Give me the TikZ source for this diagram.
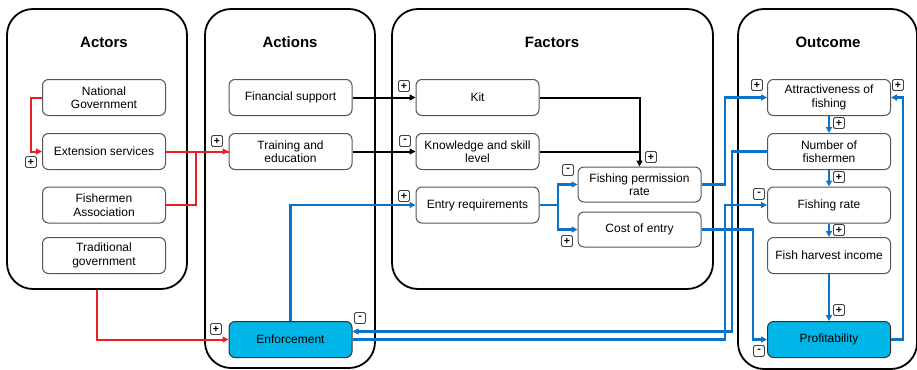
\documentclass[tikz,border=0pt]{standalone}
\usepackage{fontspec}
\setmainfont{Liberation Sans}
\usetikzlibrary{arrows.meta,calc}
\definecolor{cred}{RGB}{235,30,36}
\definecolor{cblue}{RGB}{10,115,200}
\definecolor{ccyan}{RGB}{0,182,232}
\definecolor{cgray}{RGB}{85,85,85}
\begin{document}
\begin{tikzpicture}[x=1pt,y=-1pt,
  grp/.style={draw=black, line width=1.8pt, rounded corners=26pt, inner sep=0},
  box/.style={draw=cgray, line width=1pt, rounded corners=6pt, fill=white,
    minimum width=123pt, minimum height=36pt, align=center, inner sep=0,
    font=\fontsize{12}{13.5}\selectfont},
  hl/.style={box, fill=ccyan, draw=black!80},
  ttl/.style={font=\fontsize{15}{18}\selectfont\bfseries},
  sgn/.style={draw=black!75, line width=0.9pt, rounded corners=1.5pt, fill=white,
    minimum size=11pt, inner sep=0, font=\fontsize{10.5}{10.5}\selectfont\bfseries},
  tip/.style={-{Triangle[length=6pt,width=6pt]}},
  rl/.style={draw=cred, line width=2pt},
  bl/.style={draw=black, line width=2pt},
  ul/.style={draw=cblue, line width=2.2pt}
]
\useasboundingbox (0,0) rectangle (917,369);

% groups
\node[grp, minimum width=180pt, minimum height=280pt] (actors) at (97,149) {};
\node[grp, minimum width=170pt, minimum height=359pt] (actions) at (290,188.5) {};
\node[grp, minimum width=321pt, minimum height=280pt] (factors) at (552.5,149) {};
\node[grp, minimum width=179pt, minimum height=360pt] (outcome) at (827.5,189) {};

\node[ttl] (tact) at (104,42) {Actors};
\node[ttl] (tactn) at (290,42) {Actions};
\node[ttl] (tfac) at (552,42) {Factors};
\node[ttl] (tout) at (828,42) {Outcome};

% actors
\node[box] (ng) at (104,97.5) {National\\Government};
\node[box] (es) at (104,151.5) {Extension services};
\node[box] (fa) at (104,205) {Fishermen\\Association};
\node[box] (tg) at (104,255.5) {Traditional\\government};

% actions
\node[box] (fs) at (290.5,97.5) {Financial support};
\node[box] (te) at (290.5,151.5) {Training and\\education};
\node[hl] (enf) at (290.5,339.5) {Enforcement};

% factors
\node[box] (kit) at (477.5,97.5) {Kit};
\node[box] (ks) at (477.5,151.5) {Knowledge and skill\\level};
\node[box] (er) at (477.5,205) {Entry requirements};
\node[box, minimum height=35pt] (fpr) at (639.5,184.5) {Fishing permission\\rate};
\node[box, minimum height=35pt] (ce) at (639.5,229.5) {Cost of entry};

% outcome
\node[box] (at) at (829,97.5) {Attractiveness of\\fishing};
\node[box] (nf) at (829,151.5) {Number of\\fishermen};
\node[box] (fr) at (829,205) {Fishing rate};
\node[box] (fh) at (829,255.5) {Fish harvest income};
\node[hl] (pr) at (829,339.5) {Profitability};

% junction coordinates
\coordinate (j1) at (31,0);
\coordinate (j2) at (196,0);
\coordinate (j3) at (558,0);
\coordinate (v1) at (725,0);
\coordinate (v2) at (732,0);
\coordinate (v3) at (753,0);
\coordinate (v4) at (903,0);

% red connectors
\draw[rl, tip] (ng.west) -- (ng.west -| j1) |- (es.west);
\draw[rl, tip] (es.east) -- (te.west);
\draw[rl] (fa.east) -- (fa.east -| j2) |- (te.west);
\draw[rl, tip] (actors.south) |- (enf.west);

% black connectors
\draw[bl, tip] (fs.east) -- (kit.west);
\draw[bl, tip] (te.east) -- (ks.west);
\draw[bl, tip] (kit.east) -| (fpr.north);
\draw[bl] (ks.east) -- (ks.east -| fpr.north);

% blue connectors
\draw[ul, tip] (enf.north) |- (er.west);
\draw[ul, tip] (er.east) -- (er.east -| j3) |- (fpr.west);
\draw[ul, tip] (er.east) -- (er.east -| j3) |- (ce.west);
\draw[ul, tip] (fpr.east) -- (fpr.east -| v1) |- (at.west);
\draw[ul, tip] (ce.east) -- (ce.east -| v3) |- (pr.west);
\draw[ul, tip] (nf.west) -- (nf.west -| v2) |- ([yshift=8pt]enf.east);
\draw[ul, tip] (enf.east) -- (enf.east -| v1) |- (fr.west);
\draw[ul, tip] (pr.east) -- (pr.east -| v4) |- (at.east);
\draw[ul, tip] (at.south) -- (nf.north);
\draw[ul, tip] (nf.south) -- (fr.north);
\draw[ul, tip] (fr.south) -- (fh.north);
\draw[ul, tip] (fh.south) -- (pr.north);

% signs
\node[sgn] (s1) at (31,162) {+};
\node[sgn] (s2) at (217,141) {+};
\node[sgn] (s3) at (404,86) {+};
\node[sgn] (s4) at (405,141) {-};
\node[sgn] (s5) at (404,196) {+};
\node[sgn] (s6) at (568,170) {-};
\node[sgn] (s7) at (651,157) {+};
\node[sgn] (s8) at (567,241) {+};
\node[sgn] (s9) at (216,329) {+};
\node[sgn] (s10) at (360,318) {-};
\node[sgn] (s11) at (757,85) {+};
\node[sgn] (s12) at (898,85) {+};
\node[sgn] (s13) at (839,123) {+};
\node[sgn] (s14) at (839,177) {+};
\node[sgn] (s15) at (759,194) {-};
\node[sgn] (s16) at (839,230) {+};
\node[sgn] (s17) at (839,310) {+};
\node[sgn] (s18) at (759,351) {-};
\end{tikzpicture}
\end{document}
